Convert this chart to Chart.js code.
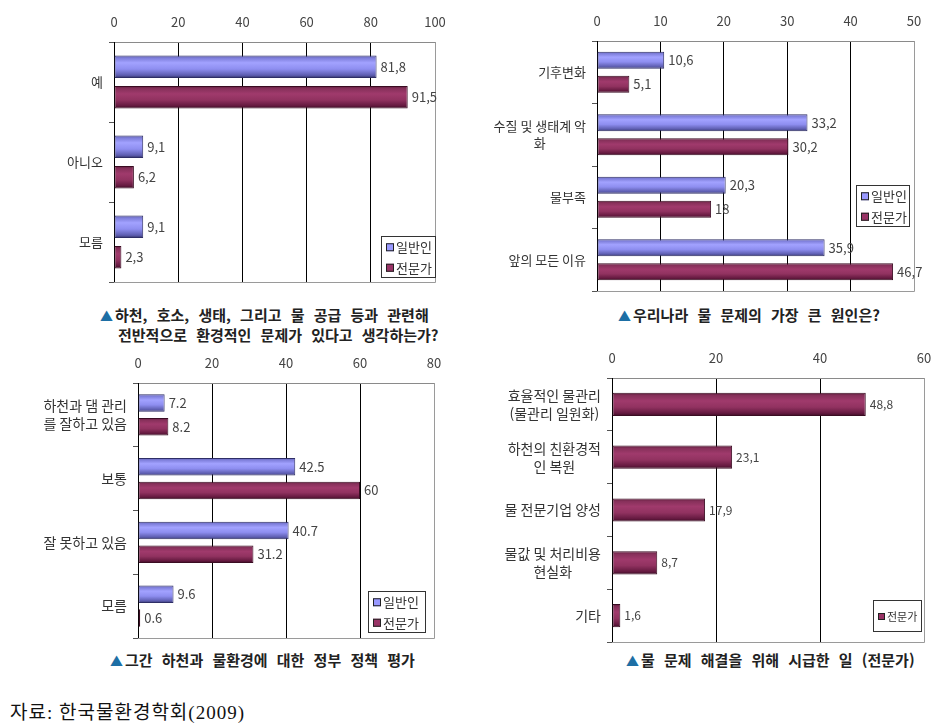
<!DOCTYPE html>
<html lang="ko">
<head>
<meta charset="utf-8">
<title>물 문제 인식 조사</title>
<script src="https://cdn.jsdelivr.net/npm/chart.js@4.4.1/dist/chart.umd.min.js"></script>
<style>
  body { margin: 0; background: #fff; width: 947px; height: 728px; position: relative; overflow: hidden;
         font-family: "Noto Sans CJK KR", "Noto Sans", sans-serif; }
  canvas { position: absolute; }
  .cap { position: absolute; font-size: 15px; font-weight: bold; color: #222; line-height: 19px; white-space: nowrap; word-spacing: 5px; }
  .cap .tri { color: #1d6fa5; font-size: 13px; margin-right: 2px; }
  .src { position: absolute; left: 10px; top: 697px; font-size: 19px; color: #111; letter-spacing: 1px;
         font-family: "Liberation Serif", "Noto Sans CJK KR", serif; }
</style>
</head>
<body>
<canvas id="c1" width="470" height="295" style="left:0;top:0"></canvas>
<canvas id="c2" width="477" height="300" style="left:470px;top:0"></canvas>
<canvas id="c3" width="470" height="300" style="left:0;top:345px"></canvas>
<canvas id="c4" width="477" height="300" style="left:470px;top:345px"></canvas>

<div class="cap" style="left:100px;top:305px"><span class="tri">▲</span>하천, 호소, 생태, 그리고 물 공급 등과 관련해<br><span style="padding-left:18px">전반적으로 환경적인 문제가 있다고 생각하는가?</span></div>
<div class="cap" style="left:618px;top:305px"><span class="tri">▲</span>우리나라 물 문제의 가장 큰 원인은?</div>
<div class="cap" style="left:110px;top:650px"><span class="tri">▲</span>그간 하천과 물환경에 대한 정부 정책 평가</div>
<div class="cap" style="left:626px;top:650px"><span class="tri">▲</span>물 문제 해결을 위해 시급한 일 (전문가)</div>
<div class="src">자료: 한국물환경학회(2009)</div>

<script>
// series names
const seriesNames = ["일반인", "전문가"];

// chart 1 - 환경적인 문제가 있다고 생각하는가
const problemCats = ["예", "아니오", "모름"];
const problemGeneral = [81.8, 9.1, 9.1];
const problemExpert = [91.5, 6.2, 2.3];
const problemTicks = [0, 20, 40, 60, 80, 100];

// chart 2 - 물 문제의 가장 큰 원인
const causeCats = ["기후변화", ["수질 및 생태계 악", "화"], "물부족", "앞의 모든 이유"];
const causeGeneral = [10.6, 33.2, 20.3, 35.9];
const causeExpert = [5.1, 30.2, 18, 46.7];
const causeTicks = [0, 10, 20, 30, 40, 50];

// chart 3 - 정부 정책 평가
const policyCats = [["하천과 댐 관리", "를 잘하고 있음"], "보통", "잘 못하고 있음", "모름"];
const policyGeneral = [7.2, 42.5, 40.7, 9.6];
const policyExpert = [8.2, 60, 31.2, 0.6];
const policyTicks = [0, 20, 40, 60, 80];

// chart 4 - 시급한 일 (전문가)
const urgentCats = [["효율적인 물관리", "(물관리 일원화)"], ["하천의 친환경적", "인 복원"], "물 전문기업 양성", ["물값 및 처리비용", "현실화"], "기타"];
const urgentExpert = [48.8, 23.1, 17.9, 8.7, 1.6];
const urgentTicks = [0, 20, 40, 60];

const FONT = '"Noto Sans CJK KR", "Noto Sans", sans-serif';
const BLUE = { solid: "#9999ff", edge: "#2e2e66",
  stops: [[0, "#55559a"], [0.1, "#7c7cd8"], [0.32, "#a2a2ff"], [0.6, "#8e8ef0"], [0.88, "#5c5cae"], [1, "#2e2e5e"]] };
const RED = { solid: "#993366", edge: "#3a0c22",
  stops: [[0, "#5c1c3a"], [0.12, "#86305a"], [0.35, "#a03a6c"], [0.62, "#913260"], [0.88, "#64193f"], [1, "#380b22"]] };

// 3D-ish gradient fill for each bar, built from the element's own geometry
const barShade = {
  id: "barShade",
  beforeDatasetsDraw(chart) {
    const ctx = chart.ctx;
    chart.data.datasets.forEach((ds, di) => {
      const meta = chart.getDatasetMeta(di);
      meta.data.forEach(el => {
        const h = el.height;
        const g = ctx.createLinearGradient(0, el.y - h / 2, 0, el.y + h / 2);
        ds.shade.stops.forEach(s => g.addColorStop(s[0], s[1]));
        el.options = Object.assign({}, el.options, { backgroundColor: g });
      });
    });
  }
};

// gray frame on right and bottom of the plot
const frame = {
  id: "frame",
  beforeDatasetsDraw(chart) {
    const a = chart.chartArea, ctx = chart.ctx;
    ctx.save();
    ctx.strokeStyle = "#9a9a9a";
    ctx.lineWidth = 1;
    ctx.beginPath();
    ctx.moveTo(a.left, a.bottom + 0.5);
    ctx.lineTo(a.right + 0.5, a.bottom + 0.5);
    ctx.lineTo(a.right + 0.5, a.top);
    ctx.stroke();
    ctx.restore();
  }
};

// category labels, multi-line centred as a block next to the axis
const catLabels = {
  id: "catLabels",
  afterDraw(chart, args, opts) {
    const ctx = chart.ctx, sc = chart.scales.y;
    const size = opts.size || 13;
    const lh = size + 4;
    ctx.save();
    ctx.font = size + "px " + FONT;
    ctx.fillStyle = "#333";
    ctx.textAlign = "center";
    ctx.textBaseline = "middle";
    chart.data.labels.forEach((lab, i) => {
      const lines = Array.isArray(lab) ? lab : [lab];
      const w = Math.max(...lines.map(t => ctx.measureText(t).width));
      const cx = chart.chartArea.left - 11 - w / 2;
      const y0 = sc.getPixelForValue(i) - (lines.length - 1) * lh / 2;
      lines.forEach((t, k) => ctx.fillText(t, cx, y0 + k * lh));
    });
    ctx.restore();
  }
};

// value labels at the bar ends
const valueLabels = {
  id: "valueLabels",
  afterDatasetsDraw(chart, args, opts) {
    const ctx = chart.ctx;
    ctx.save();
    ctx.font = (opts.size || 13) + "px " + FONT;
    ctx.fillStyle = "#444";
    ctx.textBaseline = "middle";
    chart.data.datasets.forEach((ds, di) => {
      chart.getDatasetMeta(di).data.forEach((el, i) => {
        const txt = String(ds.data[i]).replace(".", opts.sep || ".");
        ctx.fillText(txt, el.x + 4, el.y);
      });
    });
    ctx.restore();
  }
};

// boxed legend inside the plot
const boxLegend = {
  id: "boxLegend",
  afterDraw(chart, args, o) {
    const ctx = chart.ctx;
    ctx.save();
    ctx.fillStyle = "#fff";
    ctx.fillRect(o.x, o.y, o.w, o.h);
    ctx.strokeStyle = "#333";
    ctx.lineWidth = 1;
    ctx.strokeRect(o.x + 0.5, o.y + 0.5, o.w, o.h);
    const n = chart.data.datasets.length;
    const step = o.h / n;
    ctx.font = (o.size || 13) + "px " + FONT;
    ctx.textBaseline = "middle";
    chart.data.datasets.forEach((ds, i) => {
      const cy = o.y + step * (i + 0.5) + 1;
      const s = o.sw || 8;
      ctx.fillStyle = ds.shade.solid;
      ctx.fillRect(o.x + 5, cy - s / 2, s, s);
      ctx.strokeStyle = "#222";
      ctx.strokeRect(o.x + 5.5, cy - s / 2 + 0.5, s - 1, s - 1);
      ctx.fillStyle = "#333";
      ctx.fillText(ds.label, o.x + 7 + s, cy);
    });
    ctx.restore();
  }
};

function makeDataset(label, data, shade) {
  return { label: label, data: data, shade: shade, backgroundColor: shade.solid,
           borderColor: shade.edge, borderWidth: 1, borderSkipped: false };
}

function makeChart(id, labels, datasets, ticks, box, legend, look) {
  const max = ticks[ticks.length - 1];
  return new Chart(document.getElementById(id), {
    type: "bar",
    data: { labels: labels, datasets: datasets },
    plugins: [barShade, frame, catLabels, valueLabels, boxLegend],
    options: {
      indexAxis: "y",
      responsive: false,
      animation: false,
      categoryPercentage: look.cp,
      barPercentage: look.bp,
      layout: { padding: { left: 0, top: 0, right: box.R, bottom: box.B } },
      plugins: {
        legend: { display: false },
        tooltip: { enabled: false },
        valueLabels: { sep: look.sep, size: look.val },
        catLabels: { size: look.cat },
        boxLegend: legend
      },
      scales: {
        x: {
          position: "top",
          min: 0, max: max,
          afterBuildTicks: s => { s.ticks = ticks.map(v => ({ value: v })); },
          afterFit: s => { s.height = box.T; },
          ticks: { color: "#444", font: { size: 13, family: FONT }, padding: 12 },
          grid: { drawTicks: false,
                  color: c => (c.tick && (c.tick.value === 0 || c.tick.value === max)) ? "rgba(0,0,0,0)" : "#000" },
          border: { color: "#8a8a8a" }
        },
        y: {
          afterFit: s => { s.width = box.L; },
          ticks: { display: false },
          grid: { drawOnChartArea: false, drawTicks: true, tickLength: 5, color: "#555" },
          border: { color: "#000" }
        }
      }
    }
  });
}

makeChart("c1", problemCats,
  [makeDataset(seriesNames[0], problemGeneral, BLUE), makeDataset(seriesNames[1], problemExpert, RED)],
  problemTicks, { L: 114, T: 42, R: 35, B: 13 },
  { x: 381, y: 236, w: 54, h: 41 },
  { cp: 0.76, bp: 0.74, sep: ",", val: 13, cat: 13 });

makeChart("c2", causeCats,
  [makeDataset(seriesNames[0], causeGeneral, BLUE), makeDataset(seriesNames[1], causeExpert, RED)],
  causeTicks, { L: 127, T: 41, R: 33, B: 9 },
  { x: 386, y: 185, w: 53, h: 41 },
  { cp: 0.77, bp: 0.71, sep: ",", val: 13, cat: 13 });

makeChart("c3", policyCats,
  [makeDataset(seriesNames[0], policyGeneral, BLUE), makeDataset(seriesNames[1], policyExpert, RED)],
  policyTicks, { L: 138, T: 38, R: 36, B: 7 },
  { x: 368, y: 246, w: 57, h: 41 },
  { cp: 0.74, bp: 0.745, sep: ".", val: 13, cat: 14 });

makeChart("c4", urgentCats,
  [makeDataset(seriesNames[1], urgentExpert, RED)],
  urgentTicks, { L: 142, T: 33, R: 23, B: 3 },
  { x: 403, y: 255, w: 48, h: 31, size: 11, sw: 7 },
  { cp: 0.8, bp: 0.55, sep: ",", val: 12, cat: 14 });
</script>
</body>
</html>
